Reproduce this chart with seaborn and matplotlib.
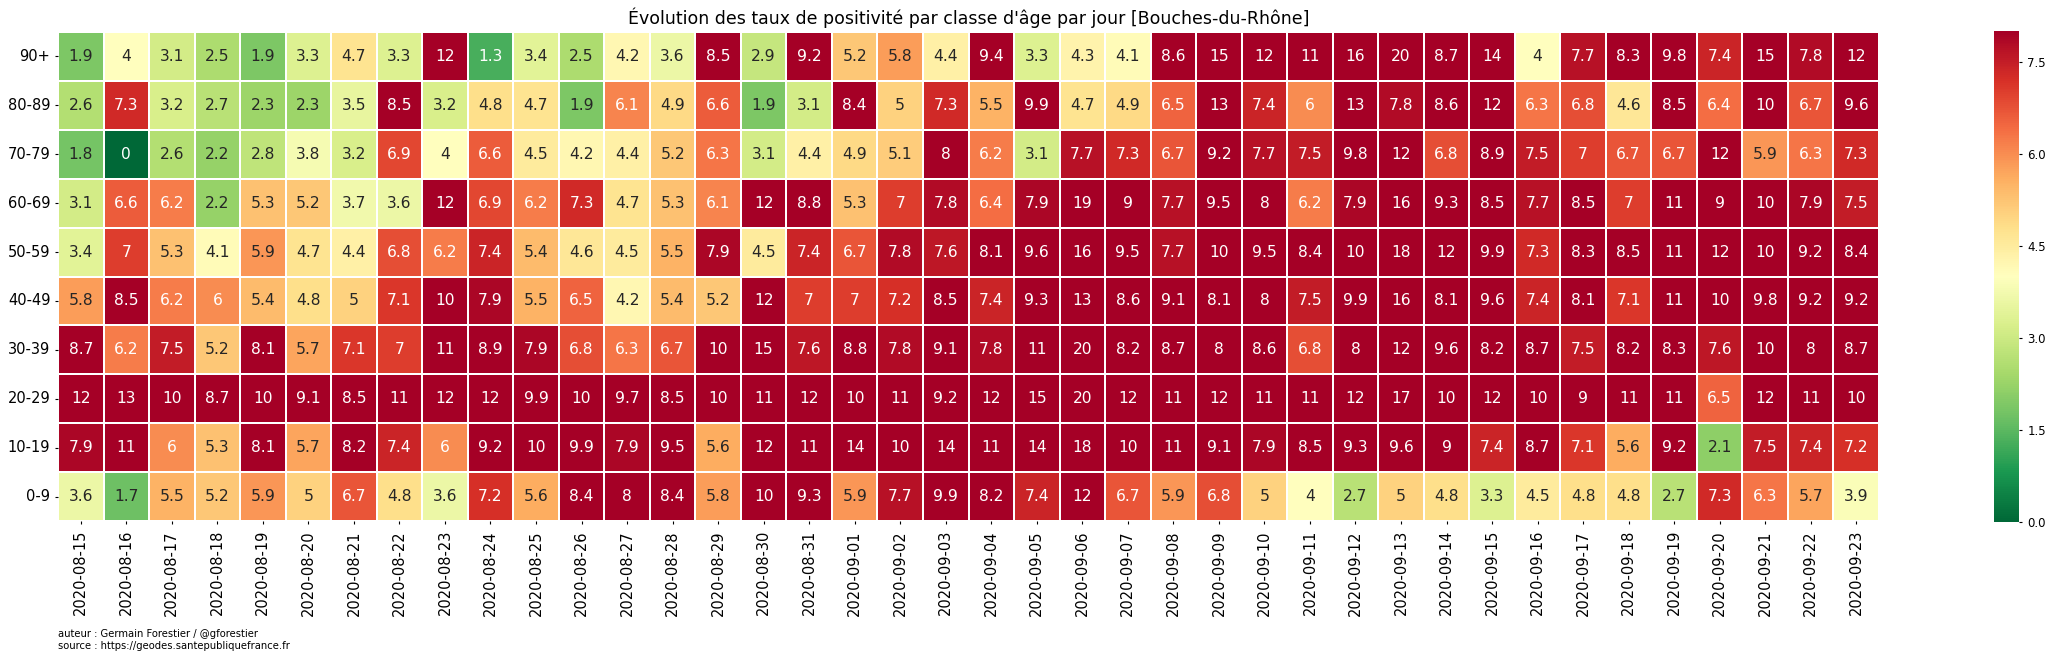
import pandas as pd
import matplotlib
matplotlib.use("Agg")
import matplotlib.pyplot as plt
import seaborn as sns

# dates
dates = list(pd.date_range("2020-08-15", "2020-09-23").strftime("%Y-%m-%d"))

# taux de positivite par classe d'age
age_90 = [1.9, 4, 3.1, 2.5, 1.9, 3.3, 4.7, 3.3, 12, 1.3, 3.4, 2.5, 4.2, 3.6, 8.5, 2.9, 9.2, 5.2, 5.8, 4.4,
          9.4, 3.3, 4.3, 4.1, 8.6, 15, 12, 11, 16, 20, 8.7, 14, 4, 7.7, 8.3, 9.8, 7.4, 15, 7.8, 12]
age_80 = [2.6, 7.3, 3.2, 2.7, 2.3, 2.3, 3.5, 8.5, 3.2, 4.8, 4.7, 1.9, 6.1, 4.9, 6.6, 1.9, 3.1, 8.4, 5, 7.3,
          5.5, 9.9, 4.7, 4.9, 6.5, 13, 7.4, 6, 13, 7.8, 8.6, 12, 6.3, 6.8, 4.6, 8.5, 6.4, 10, 6.7, 9.6]
age_70 = [1.8, 0, 2.6, 2.2, 2.8, 3.8, 3.2, 6.9, 4, 6.6, 4.5, 4.2, 4.4, 5.2, 6.3, 3.1, 4.4, 4.9, 5.1, 8,
          6.2, 3.1, 7.7, 7.3, 6.7, 9.2, 7.7, 7.5, 9.8, 12, 6.8, 8.9, 7.5, 7, 6.7, 6.7, 12, 5.9, 6.3, 7.3]
age_60 = [3.1, 6.6, 6.2, 2.2, 5.3, 5.2, 3.7, 3.6, 12, 6.9, 6.2, 7.3, 4.7, 5.3, 6.1, 12, 8.8, 5.3, 7, 7.8,
          6.4, 7.9, 19, 9, 7.7, 9.5, 8, 6.2, 7.9, 16, 9.3, 8.5, 7.7, 8.5, 7, 11, 9, 10, 7.9, 7.5]
age_50 = [3.4, 7, 5.3, 4.1, 5.9, 4.7, 4.4, 6.8, 6.2, 7.4, 5.4, 4.6, 4.5, 5.5, 7.9, 4.5, 7.4, 6.7, 7.8, 7.6,
          8.1, 9.6, 16, 9.5, 7.7, 10, 9.5, 8.4, 10, 18, 12, 9.9, 7.3, 8.3, 8.5, 11, 12, 10, 9.2, 8.4]
age_40 = [5.8, 8.5, 6.2, 6, 5.4, 4.8, 5, 7.1, 10, 7.9, 5.5, 6.5, 4.2, 5.4, 5.2, 12, 7, 7, 7.2, 8.5,
          7.4, 9.3, 13, 8.6, 9.1, 8.1, 8, 7.5, 9.9, 16, 8.1, 9.6, 7.4, 8.1, 7.1, 11, 10, 9.8, 9.2, 9.2]
age_30 = [8.7, 6.2, 7.5, 5.2, 8.1, 5.7, 7.1, 7, 11, 8.9, 7.9, 6.8, 6.3, 6.7, 10, 15, 7.6, 8.8, 7.8, 9.1,
          7.8, 11, 20, 8.2, 8.7, 8, 8.6, 6.8, 8, 12, 9.6, 8.2, 8.7, 7.5, 8.2, 8.3, 7.6, 10, 8, 8.7]
age_20 = [12, 13, 10, 8.7, 10, 9.1, 8.5, 11, 12, 12, 9.9, 10, 9.7, 8.5, 10, 11, 12, 10, 11, 9.2,
          12, 15, 20, 12, 11, 12, 11, 11, 12, 17, 10, 12, 10, 9, 11, 11, 6.5, 12, 11, 10]
age_10 = [7.9, 11, 6, 5.3, 8.1, 5.7, 8.2, 7.4, 6, 9.2, 10, 9.9, 7.9, 9.5, 5.6, 12, 11, 14, 10, 14,
          11, 14, 18, 10, 11, 9.1, 7.9, 8.5, 9.3, 9.6, 9, 7.4, 8.7, 7.1, 5.6, 9.2, 2.1, 7.5, 7.4, 7.2]
age_0 = [3.6, 1.7, 5.5, 5.2, 5.9, 5, 6.7, 4.8, 3.6, 7.2, 5.6, 8.4, 8, 8.4, 5.8, 10, 9.3, 5.9, 7.7, 9.9,
         8.2, 7.4, 12, 6.7, 5.9, 6.8, 5, 4, 2.7, 5, 4.8, 3.3, 4.5, 4.8, 4.8, 2.7, 7.3, 6.3, 5.7, 3.9]

ages = ["90+", "80-89", "70-79", "60-69", "50-59", "40-49", "30-39", "20-29", "10-19", "0-9"]
cbar_ticks = [0.0, 1.5, 3.0, 4.5, 6.0, 7.5]

df = pd.DataFrame([age_90, age_80, age_70, age_60, age_50, age_40, age_30, age_20, age_10, age_0],
                  index=ages, columns=dates)

W, H = 2048, 658
fig = plt.figure(figsize=(W / 100, H / 100), dpi=100)
ax = fig.add_axes([58 / W, 1 - 521 / H, (1879 - 58) / W, (521 - 32) / H])
cax = fig.add_axes([1994 / W, 1 - 522 / H, 25 / W, (522 - 31) / H])

sns.heatmap(df, ax=ax, cbar_ax=cax, cmap="RdYlGn_r", vmin=0, vmax=8, annot=True,
            annot_kws={"size": 11.2}, linewidths=1.2, linecolor="white",
            cbar_kws={"ticks": cbar_ticks})

ax.set_title("Évolution des taux de positivité par classe d'âge par jour [Bouches-du-Rhône]",
             fontsize=12.5, pad=6)
ax.tick_params(axis="x", labelsize=10.5, rotation=90, length=2.5, pad=4)
ax.tick_params(axis="y", labelsize=10.5, rotation=0, length=2.5, pad=3)
cax.tick_params(labelsize=8.5, length=2.5)

fig.text(58 / W, 1 - 634 / H, "auteur : Germain Forestier / @gforestier", fontsize=7.2, va="center")
fig.text(58 / W, 1 - 646 / H, "source : https://geodes.santepubliquefrance.fr", fontsize=7.2, va="center")

fig.savefig("out.png", dpi=100)
